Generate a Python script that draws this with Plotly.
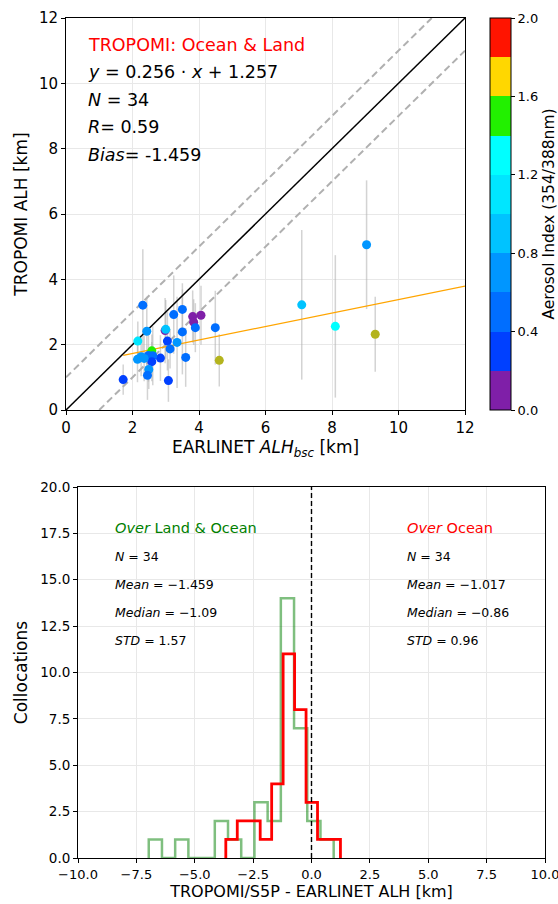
import numpy as np
import plotly.graph_objects as go

# ---------------- data: scatter (top panel) ----------------
earlinet_alh = [2.31, 3.24, 3.50, 3.81, 4.06, 3.84, 3.89, 4.49, 2.43, 2.98,
                3.00, 3.50, 2.16, 3.05, 3.34, 3.13, 2.58, 2.84, 3.60, 2.15,
                2.26, 2.48, 2.61, 2.58, 2.49, 2.45, 1.72, 3.08, 4.61, 2.35,
                7.09, 9.04, 8.10, 9.30]
tropomi_alh = [3.21, 2.92, 3.08, 2.86, 2.90, 2.69, 2.52, 2.52, 2.41, 2.43,
               2.47, 2.39, 2.11, 2.11, 2.07, 1.87, 1.81, 1.59, 1.61, 1.55,
               1.63, 1.67, 1.66, 1.48, 1.24, 1.06, 0.93, 0.90, 1.52, 1.58,
               3.22, 5.06, 2.56, 2.32]
tropomi_err = [1.71, 1.20, 0.80, 0.80, 0.90, 0.70, 0.75, 1.13, 1.06, 1.00,
               0.90, 1.30, 0.60, 0.90, 1.40, 0.60, 0.50, 0.70, 0.90, 0.70,
               0.60, 0.80, 0.90, 0.60, 0.60, 0.75, 0.46, 0.65, 0.80, 0.70,
               2.29, 1.97, 2.18, 1.15]
aerosol_index = [0.5, 0.5, 0.5, 0.1, 0.1, 0.1, 0.5, 0.5, 0.7, 0.1,
                 0.9, 0.5, 1.1, 0.3, 0.7, 0.5, 1.5, 0.3, 0.5, 0.7,
                 0.7, 0.5, 0.5, 0.3, 0.7, 0.5, 0.3, 0.3, 2.3, 0.7,
                 0.85, 0.7, 1.25, 2.3]

fit_slope = 0.206
fit_intercept = 1.32

ai_colors = ['#7f1fa8', '#0040ff', '#006eff', '#0096ff', '#00c3ff',
             '#00e6ff', '#00ffff', '#22f000', '#ffd700', '#ff1400']
over_color = '#b4b41e'
ai_ticks = [0.0, 0.4, 0.8, 1.2, 1.6, 2.0]

top_text = ['<span style="color:red">TROPOMI: Ocean &amp; Land</span>',
            '<i>y</i> = 0.256 · <i>x</i> + 1.257',
            '<i>N</i> = 34',
            '<i>R</i>= 0.59',
            '<i>Bias</i>= -1.459']
top_text_y = [11.17, 10.34, 9.49, 8.65, 7.80]

# ---------------- data: histograms (bottom panel) ----------------
green_range = (-6.97, 0.95)
green_counts = [1, 0, 1, 0, 0, 2, 1, 0, 3, 2, 14, 7, 2, 1]
red_range = (-3.67, 1.24)
red_counts = [1, 2, 2, 1, 4, 11, 8, 3, 1, 1]

left_title = '<i>Over</i> Land &amp; Ocean'
left_stats = ['<i>N</i> = 34', '<i>Mean</i> = −1.459',
              '<i>Median</i> = −1.09', '<i>STD</i> = 1.57']
right_title = '<i>Over</i> Ocean'
right_stats = ['<i>N</i> = 34', '<i>Mean</i> = −1.017',
               '<i>Median</i> = −0.86', '<i>STD</i> = 0.96']
stat_y = [17.8, 16.25, 14.75, 13.25, 11.75]

FONT = 'DejaVu Sans'
W, H = 558, 904

fig = go.Figure()

# error bars
fig.add_trace(go.Scatter(
    x=earlinet_alh, y=tropomi_alh, mode='markers',
    marker=dict(size=9, opacity=0),
    error_y=dict(type='data', array=tropomi_err, color='rgba(175,175,175,0.55)',
                 thickness=1.5, width=0),
    xaxis='x', yaxis='y', showlegend=False, hoverinfo='skip'))

# reference lines
fig.add_trace(go.Scatter(x=[0, 12], y=[0, 12], mode='lines',
                         line=dict(color='black', width=1.5),
                         xaxis='x', yaxis='y', showlegend=False))
fig.add_trace(go.Scatter(x=[0, 11], y=[1, 12], mode='lines',
                         line=dict(color='#b0b0b0', width=2, dash='7px,4px'),
                         xaxis='x', yaxis='y', showlegend=False))
fig.add_trace(go.Scatter(x=[1, 12], y=[0, 11], mode='lines',
                         line=dict(color='#b0b0b0', width=2, dash='7px,4px'),
                         xaxis='x', yaxis='y', showlegend=False))

# regression line
xf = np.array([min(earlinet_alh), 12.0])
fig.add_trace(go.Scatter(x=xf, y=fit_slope * xf + fit_intercept, mode='lines',
                         line=dict(color='#ffa500', width=1.3),
                         xaxis='x', yaxis='y', showlegend=False))

# colorscale (discrete)
cs = []
n = len(ai_colors)
for i, c in enumerate(ai_colors):
    cs.append([i / n, c])
    cs.append([(i + 1) / n, c])

ai = np.array(aerosol_index)
ex = np.array(earlinet_alh)
ty = np.array(tropomi_alh)
inr = ai <= 2.0

fig.add_trace(go.Scatter(
    x=ex[inr], y=ty[inr], mode='markers',
    marker=dict(size=9, color=ai[inr], colorscale=cs, cmin=0, cmax=2,
                line=dict(width=0),
                colorbar=dict(
                    x=490 / W, xanchor='left', y=1 - 214 / H, yanchor='middle',
                    len=392 / H, lenmode='fraction', thickness=21,
                    thicknessmode='pixels', xpad=0, ypad=0,
                    outlinecolor='black', outlinewidth=1,
                    tickvals=ai_ticks, ticktext=[f'{v:.1f}' for v in ai_ticks],
                    ticks='outside', ticklen=4, tickcolor='black',
                    tickfont=dict(family=FONT, size=13, color='black'),
                    title=dict(text='Aerosol Index (354/388nm)', side='right',
                               font=dict(family=FONT, size=15.5, color='black')))),
    xaxis='x', yaxis='y', showlegend=False))
fig.add_trace(go.Scatter(
    x=ex[~inr], y=ty[~inr], mode='markers',
    marker=dict(size=9, color=over_color, line=dict(width=0)),
    xaxis='x', yaxis='y', showlegend=False))

# histograms (step outlines)
def step_xy(rng, counts):
    edges = np.linspace(rng[0], rng[1], len(counts) + 1)
    xs = [edges[0]] + list(edges[:-1]) + [edges[-1]]
    ys = [0] + list(counts) + [0]
    return xs, ys

gx, gy = step_xy(green_range, green_counts)
fig.add_trace(go.Scatter(x=gx, y=gy, mode='lines', line_shape='hv',
                         line=dict(color='rgba(0,128,0,0.5)', width=2.5),
                         xaxis='x2', yaxis='y2', showlegend=False))
rx, ry = step_xy(red_range, red_counts)
fig.add_trace(go.Scatter(x=rx, y=ry, mode='lines', line_shape='hv',
                         line=dict(color='red', width=2.8),
                         xaxis='x2', yaxis='y2', showlegend=False))
fig.add_trace(go.Scatter(x=[0, 0], y=[0, 20], mode='lines',
                         line=dict(color='black', width=1.4, dash='5px,3px'),
                         xaxis='x2', yaxis='y2', showlegend=False))

ann = []
for t, yv in zip(top_text, top_text_y):
    ann.append(dict(x=0.6, y=yv, xref='x', yref='y', text=t, showarrow=False,
                    xanchor='left', yanchor='middle',
                    font=dict(family=FONT, size=17.5, color='black')))
ann.append(dict(x=-8.5, y=stat_y[0], xref='x2', yref='y2', text=left_title,
                showarrow=False, xanchor='left', yanchor='middle',
                font=dict(family=FONT, size=14.5, color='green')))
ann.append(dict(x=4.0, y=stat_y[0], xref='x2', yref='y2', text=right_title,
                showarrow=False, xanchor='left', yanchor='middle',
                font=dict(family=FONT, size=14.5, color='red')))
for t, yv in zip(left_stats, stat_y[1:]):
    ann.append(dict(x=-8.5, y=yv, xref='x2', yref='y2', text=t, showarrow=False,
                    xanchor='left', yanchor='middle',
                    font=dict(family=FONT, size=12.5, color='black')))
for t, yv in zip(right_stats, stat_y[1:]):
    ann.append(dict(x=4.0, y=yv, xref='x2', yref='y2', text=t, showarrow=False,
                    xanchor='left', yanchor='middle',
                    font=dict(family=FONT, size=12.5, color='black')))

axis_common = dict(showline=True, linecolor='black', linewidth=1, mirror=True,
                   ticks='outside', ticklen=4, tickcolor='black',
                   showgrid=True, gridcolor='#e8e8e8', gridwidth=1,
                   zeroline=False, automargin=False, ticklabeloverflow='allow')

fig.update_layout(
    width=W, height=H, margin=dict(l=0, r=0, t=0, b=0, autoexpand=False),
    paper_bgcolor='white', plot_bgcolor='white',
    font=dict(family=FONT, color='black'),
    hovermode=False,
    xaxis=dict(domain=[66 / W, 465 / W], range=[0, 12], dtick=2, anchor='y',
               tickfont=dict(size=15),
               title=dict(text='EARLINET <i>ALH</i><sub><i>bsc</i></sub> [km]',
                          font=dict(size=17), standoff=4),
               **axis_common),
    yaxis=dict(domain=[1 - 410 / H, 1 - 18 / H], range=[0, 12], dtick=2, anchor='x',
               tickfont=dict(size=15),
               title=dict(text='TROPOMI ALH [km]', font=dict(size=17), standoff=6),
               **axis_common),
    xaxis2=dict(domain=[78 / W, 545 / W], range=[-10, 10], dtick=2.5, anchor='y2',
                tickformat='.1f', tickfont=dict(size=13),
                title=dict(text='TROPOMI/S5P - EARLINET ALH [km]',
                           font=dict(size=16), standoff=2),
                **axis_common),
    yaxis2=dict(domain=[1 - 858 / H, 1 - 487 / H], range=[0, 20], dtick=2.5,
                anchor='x2', tickformat='.1f', tickfont=dict(size=13.5),
                title=dict(text='Collocations', font=dict(size=17), standoff=8),
                **axis_common),
    annotations=ann,
)

fig.write_html('out.html')
